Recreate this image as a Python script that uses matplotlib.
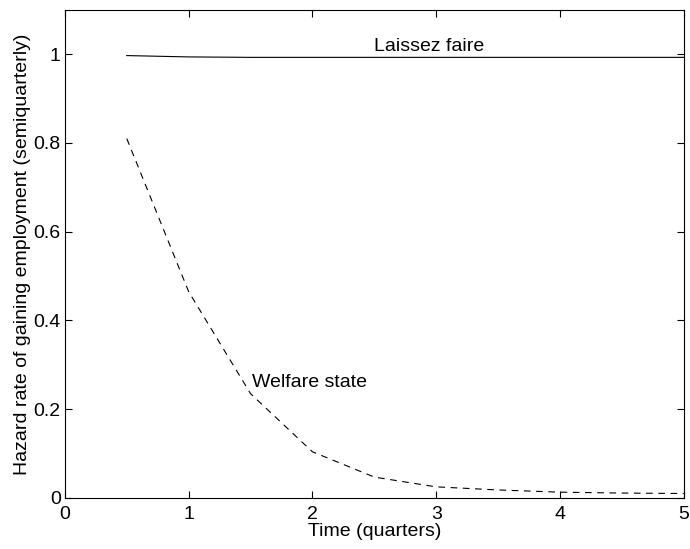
import matplotlib
matplotlib.use('Agg')
import matplotlib.pyplot as plt
import numpy as np

# time in quarters, sampled every half quarter
time_q = [0.5, 1.0, 1.5, 2.0, 2.5, 3.0, 3.5, 4.0, 4.5, 5.0]
laissez_faire = [0.997, 0.994, 0.993, 0.993, 0.993, 0.993, 0.993, 0.993, 0.993, 0.993]
welfare_state = [0.81, 0.465, 0.235, 0.104, 0.047, 0.025, 0.018, 0.013, 0.011, 0.010]

xticks = [0, 1, 2, 3, 4, 5]
yticks = [0, 0.2, 0.4, 0.6, 0.8, 1.0]
ytick_labels = ['0', '0.2', '0.4', '0.6', '0.8', '1']

plt.rcParams['font.family'] = ['Liberation Sans', 'DejaVu Sans']
plt.rcParams['font.size'] = 14

fig = plt.figure(figsize=(6.9, 5.49), dpi=100)
ax = fig.add_axes([0.094, 0.093, 0.897, 0.889])

ax.plot(time_q, laissez_faire, color='black', linewidth=0.8)
ax.plot(time_q, welfare_state, color='black', linewidth=0.8, linestyle=(0, (6, 5)))

ax.text(2.94, 0.999, 'Laissez faire', ha='center', va='bottom', fontsize=14)
ax.text(1.51, 0.26, 'Welfare state', ha='left', va='center', fontsize=14)

ax.set_xlim(0, 5)
ax.set_ylim(0, 1.1)
ax.set_xticks(xticks)
ax.set_xticklabels([str(t) for t in xticks])
ax.set_yticks(yticks)
ax.set_yticklabels(ytick_labels)
ax.tick_params(direction='in', top=True, right=True, length=5, width=0.8)
ax.tick_params(axis='x', pad=6)
ax.tick_params(axis='y', pad=3)
for s in ax.spines.values():
    s.set_linewidth(0.8)

ax.set_xlabel('Time (quarters)', labelpad=0)
ax.set_ylabel('Hazard rate of gaining employment (semiquarterly)', labelpad=2)

fig.savefig('out.png', dpi=100)
